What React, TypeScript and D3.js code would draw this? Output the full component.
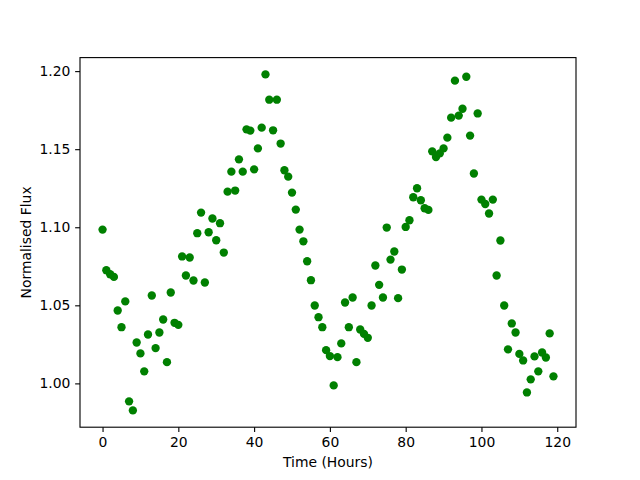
import React, { useEffect, useRef } from 'react';
import * as d3 from 'd3';

// time of each observation (hours)
const hours = [
  0, 1, 2, 3, 4, 5, 6, 7, 8, 9, 10, 11, 12, 13, 14, 15, 16, 17, 18, 19,
  20, 21, 22, 23, 24, 25, 26, 27, 28, 29, 30, 31, 32, 33, 34, 35, 36, 37, 38, 39,
  40, 41, 42, 43, 44, 45, 46, 47, 48, 49, 50, 51, 52, 53, 54, 55, 56, 57, 58, 59,
  60, 61, 62, 63, 64, 65, 66, 67, 68, 69, 70, 71, 72, 73, 74, 75, 76, 77, 78, 79,
  80, 81, 82, 83, 84, 85, 86, 87, 88, 89, 90, 91, 92, 93, 94, 95, 96, 97, 98, 99,
  100, 101, 102, 103, 104, 105, 106, 107, 108, 109, 110, 111, 112, 113, 114, 115, 116, 117, 118, 119,
];

// normalised flux
const flux = [
  1.0985, 1.0725, 1.0699, 1.0682, 1.0467, 1.0360, 1.0525, 0.9885, 0.9827, 1.0262,
  1.0192, 1.0077, 1.0313, 1.0563, 1.0226, 1.0326, 1.0409, 1.0136, 1.0582, 1.0388,
  1.0375, 1.0813, 1.0691, 1.0806, 1.0659, 1.0962, 1.1094, 1.0646, 1.0968, 1.1056,
  1.0917, 1.1026, 1.0838, 1.1228, 1.1356, 1.1235, 1.1435, 1.1356, 1.1627, 1.1619,
  1.1371, 1.1505, 1.1638, 1.1979, 1.1817, 1.1621, 1.1817, 1.1536, 1.1365, 1.1324,
  1.1222, 1.1113, 1.0985, 1.0910, 1.0782, 1.0661, 1.0499, 1.0424, 1.0360, 1.0213,
  1.0175, 0.9987, 1.0168, 1.0256, 1.0518, 1.0360, 1.0550, 1.0136, 1.0345, 1.0317,
  1.0292, 1.0499, 1.0755, 1.0631, 1.0550, 1.0998, 1.0793, 1.0845, 1.0546, 1.0729,
  1.1002, 1.1045, 1.1192, 1.1250, 1.1173, 1.1122, 1.1111, 1.1486, 1.1450, 1.1473,
  1.1505, 1.1574, 1.1702, 1.1939, 1.1715, 1.1759, 1.1964, 1.1587, 1.1344, 1.1729,
  1.1177, 1.1149, 1.1088, 1.1177, 1.0691, 1.0915, 1.0499, 1.0218, 1.0384, 1.0326,
  1.0189, 1.0147, 0.9942, 1.0026, 1.0173, 1.0077, 1.0198, 1.0166, 1.0320, 1.0045,
];

const xTicks = [0, 20, 40, 60, 80, 100, 120];
const yTicks = [1.0, 1.05, 1.1, 1.15, 1.2];

const W = 640;
const H = 480;
const FONT = 'DejaVu Sans, sans-serif';

const App = () => {
  const ref = useRef<SVGSVGElement>(null);

  useEffect(() => {
    const svg = d3.select(ref.current).attr('width', W).attr('height', H);
    svg.selectAll('*').remove();

    const left = 80, right = 576, top = 57.6, bottom = 427.2;

    // matplotlib style 5% margins
    const [x0, x1] = d3.extent(hours) as [number, number];
    const [y0, y1] = d3.extent(flux) as [number, number];
    const xPad = (x1 - x0) * 0.05;
    const yPad = (y1 - y0) * 0.05;

    const x = d3.scaleLinear().domain([x0 - xPad, x1 + xPad]).range([left, right]);
    const y = d3.scaleLinear().domain([y0 - yPad, y1 + yPad]).range([bottom, top]);

    svg.append('rect')
      .attr('width', W).attr('height', H).attr('fill', 'white');

    svg.append('g')
      .selectAll('circle')
      .data(hours)
      .enter()
      .append('circle')
      .attr('cx', d => x(d))
      .attr('cy', (d, i) => y(flux[i]))
      .attr('r', 4.17)
      .attr('fill', '#008000');

    // frame
    svg.append('rect')
      .attr('x', left).attr('y', top)
      .attr('width', right - left).attr('height', bottom - top)
      .attr('fill', 'none').attr('stroke', 'black').attr('stroke-width', 1.11);

    const xAxis = svg.append('g')
      .attr('transform', `translate(0,${bottom})`)
      .call(d3.axisBottom(x).tickValues(xTicks).tickSize(4.86).tickPadding(4.8).tickFormat(d3.format('d')));
    xAxis.select('.domain').remove();

    const yAxis = svg.append('g')
      .attr('transform', `translate(${left},0)`)
      .call(d3.axisLeft(y).tickValues(yTicks).tickSize(4.86).tickPadding(4.8).tickFormat(d3.format('.2f')));
    yAxis.select('.domain').remove();

    svg.selectAll('.tick line').attr('stroke', 'black').attr('stroke-width', 1.11);
    svg.selectAll('.tick text')
      .attr('fill', 'black')
      .attr('font-family', FONT)
      .attr('font-size', 13.9);

    svg.append('text')
      .attr('x', (left + right) / 2)
      .attr('y', 467)
      .attr('text-anchor', 'middle')
      .attr('font-family', FONT)
      .attr('font-size', 13.9)
      .text('Time (Hours)');

    svg.append('text')
      .attr('transform', `translate(31,${(top + bottom) / 2}) rotate(-90)`)
      .attr('text-anchor', 'middle')
      .attr('font-family', FONT)
      .attr('font-size', 13.9)
      .text('Normalised Flux');
  }, []);

  return (
    <svg ref={ref} style={{ position: 'absolute', left: 0, top: 0 }}></svg>
  );
};

export default App;
